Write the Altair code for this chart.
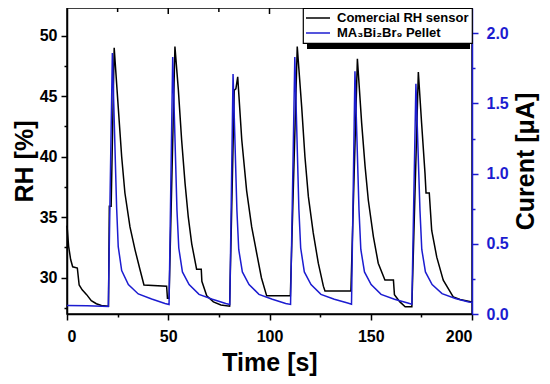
import altair as alt
import pandas as pd

# ---- data ----
rh_t = [0, 0.8, 1.8, 2.8, 5.1, 6.0, 7.5, 9.7, 12.0, 14.5, 17.0, 20.5,
        20.9, 21.8, 23.3, 25.3, 27.0, 28.6, 31.1, 33.6, 36.0, 38.0, 49.2, 49.6, 50.4,
        53.3, 55.0, 56.6, 58.3, 59.9, 61.6, 64.0, 66.3, 66.6, 69.0, 72.3, 76.0, 80.3,
        82.6, 83.4, 84.3, 86.3, 88.7, 91.2, 93.7, 96.0, 98.6, 110.3,
        113.7, 115.9, 117.5, 119.2, 121.6, 124.1, 126.6, 127.4, 140.2,
        143.4, 145.5, 147.2, 148.8, 151.3, 153.7, 157.0, 161.2, 161.7, 164.4, 167.0, 170.3,
        173.5, 175.1, 176.8, 177.3, 178.9, 180.1, 182.6, 185.8, 190.8, 194.1, 200.0]
rh_v = [34.3, 32.6, 31.5, 30.9, 30.8, 29.4, 29.0, 28.6, 28.1, 27.85, 27.7, 27.65,
        35.9, 35.9, 49.0, 44.1, 40.0, 37.0, 34.2, 32.3, 30.7, 29.4, 29.3, 28.3, 28.3,
        49.1, 45.5, 41.4, 37.8, 35.0, 32.8, 30.7, 30.7, 29.7, 28.5, 28.0, 27.75, 27.65,
        45.5, 45.6, 46.6, 41.4, 37.2, 34.2, 32.0, 30.0, 28.5, 28.5,
        49.1, 44.1, 40.0, 36.7, 33.7, 31.2, 29.3, 28.9, 28.9,
        48.1, 42.8, 39.2, 36.4, 33.4, 31.2, 29.8, 29.8, 28.6, 28.0, 27.6, 27.6,
        47.0, 42.8, 38.6, 37.0, 37.0, 33.9, 31.7, 29.8, 28.4, 28.2, 28.0]

cur_t = [0, 10.0, 20.4,
         22.4, 24.5, 25.3, 27.0, 30.3, 35.2, 41.8, 48.4, 50.4,
         52.2, 54.3, 55.2, 57.0, 60.3, 65.2, 71.8, 78.4, 80.4,
         82.0, 83.9, 84.8, 86.6, 89.9, 94.8, 101.4, 108.0, 110.4,
         112.5, 114.5, 115.4, 117.2, 120.5, 125.4, 132.0, 138.6, 140.5,
         142.2, 144.2, 145.1, 146.9, 150.2, 155.1, 161.7, 168.3, 170.3,
         172.3, 174.3, 175.2, 177.0, 180.3, 185.2, 191.8, 198.4, 200.0]
cur_v = [0.06, 0.058, 0.053,
         1.86, 0.76, 0.48, 0.31, 0.21, 0.143, 0.107, 0.075, 0.068,
         1.83, 0.74, 0.47, 0.30, 0.21, 0.14, 0.105, 0.075, 0.068,
         1.71, 0.74, 0.46, 0.30, 0.21, 0.14, 0.105, 0.075, 0.068,
         1.83, 0.75, 0.47, 0.30, 0.21, 0.14, 0.105, 0.078, 0.07,
         1.73, 0.74, 0.46, 0.30, 0.21, 0.14, 0.105, 0.078, 0.07,
         1.64, 0.74, 0.46, 0.30, 0.21, 0.145, 0.11, 0.085, 0.083]

series_names = ["Comercial RH sensor", "MA\u2083Bi\u2082Br\u2089 Pellet"]
series_colors = ["#000000", "#1c1cd0"]

x_ticks = [0, 25, 50, 75, 100, 125, 150, 175, 200]
top_major = [50, 100, 150]
top_minor = [25, 75, 125, 175]
rh_ticks = [27.5, 30, 32.5, 35, 37.5, 40, 42.5, 45, 47.5, 50]
cur_ticks = [0, 0.25, 0.5, 0.75, 1.0, 1.25, 1.5, 1.75, 2.0]

FONT = "Liberation Sans"
BLUE = series_colors[1]

df_rh = pd.DataFrame({"t": rh_t, "v": rh_v, "series": series_names[0]})
df_cur = pd.DataFrame({"t": cur_t, "v": cur_v, "series": series_names[1]})

color_scale = alt.Scale(domain=series_names, range=series_colors)
legend = alt.Legend(title=None, orient="none", legendX=236, legendY=0,
                    direction="vertical", symbolType="M-2,0H2", symbolSize=144,
                    symbolOffset=5, symbolStrokeWidth=1.5, labelFontSize=13,
                    labelFontWeight="bold", labelFont=FONT, labelColor="black",
                    strokeColor="black", fillColor="white",
                    padding=3, rowPadding=1, labelOffset=12)

x_enc = alt.X("t:Q", scale=alt.Scale(domain=[0, 200], nice=False),
              axis=alt.Axis(values=x_ticks, title="Time [s]",
                            labelExpr="datum.value % 50 === 0 ? datum.label : ''",
                            tickSize={"condition": {"test": "datum.value % 50 === 0", "value": 6}, "value": 3},
                            labelPadding=8, titlePadding=6))

rh_line = alt.Chart(df_rh).mark_line(strokeWidth=1.5).encode(
    x=x_enc,
    y=alt.Y("v:Q", scale=alt.Scale(domain=[27, 52.29], nice=False, zero=False),
            axis=alt.Axis(orient="left", values=rh_ticks, title="RH [%]",
                          labelExpr="datum.value % 5 === 0 ? datum.label : ''",
                          tickSize={"condition": {"test": "datum.value % 5 === 0", "value": 6}, "value": 3},
                          labelPadding=4, titlePadding=2)),
    color=alt.Color("series:N", scale=color_scale, legend=legend),
)

cur_line = alt.Chart(df_cur).mark_line(strokeWidth=1.5).encode(
    x=x_enc,
    y=alt.Y("v:Q", scale=alt.Scale(domain=[0, 2.18], nice=False),
            axis=alt.Axis(orient="right", values=cur_ticks, title="Curent [\u03bcA]",
                          format=".1f",
                          labelExpr="datum.value % 0.5 === 0 ? datum.label : ''",
                          tickSize={"condition": {"test": "datum.value % 0.5 === 0", "value": 6}, "value": 3},
                          labelColor=BLUE, tickColor=BLUE, domainColor=BLUE,
                          titleAngle=270, titleBaseline="bottom",
                          labelPadding=8, titlePadding=30)),
    color=alt.Color("series:N", scale=color_scale, legend=legend),
)

# inward ticks on the top frame edge
top_major_ticks = alt.Chart(pd.DataFrame({"t": top_major})).mark_rule(
    color="black", strokeWidth=1.5).encode(x=x_enc, y=alt.value(0), y2=alt.value(6))
top_minor_ticks = alt.Chart(pd.DataFrame({"t": top_minor})).mark_rule(
    color="black", strokeWidth=1.5).encode(x=x_enc, y=alt.value(0), y2=alt.value(4))

shadow = alt.Chart(pd.DataFrame({"a": [0]})).mark_rect(color="black").encode(
    x=alt.value(240), x2=alt.value(403), y=alt.value(4), y2=alt.value(41)
)

chart = alt.layer(rh_line, cur_line, top_major_ticks, top_minor_ticks, shadow).resolve_scale(
    y="independent", color="shared"
).properties(
    width=405, height=306,
    padding={"left": 59, "top": 0, "right": 70, "bottom": 62},
    autosize=alt.AutoSizeParams(type="none"),
).configure_view(
    stroke="black", strokeWidth=1.5
).configure_axis(
    grid=False, domainColor="black", domainWidth=1.5, tickColor="black", tickWidth=1.5,
    labelFont=FONT, labelFontSize=16, labelFontWeight="bold", labelColor="black",
    titleFont=FONT, titleFontSize=25, titleFontWeight="bold", titleColor="black",
).configure_legend(
    strokeWidth=1.2
)

chart.save("out.html", embed_options={"renderer": "svg", "actions": False})
